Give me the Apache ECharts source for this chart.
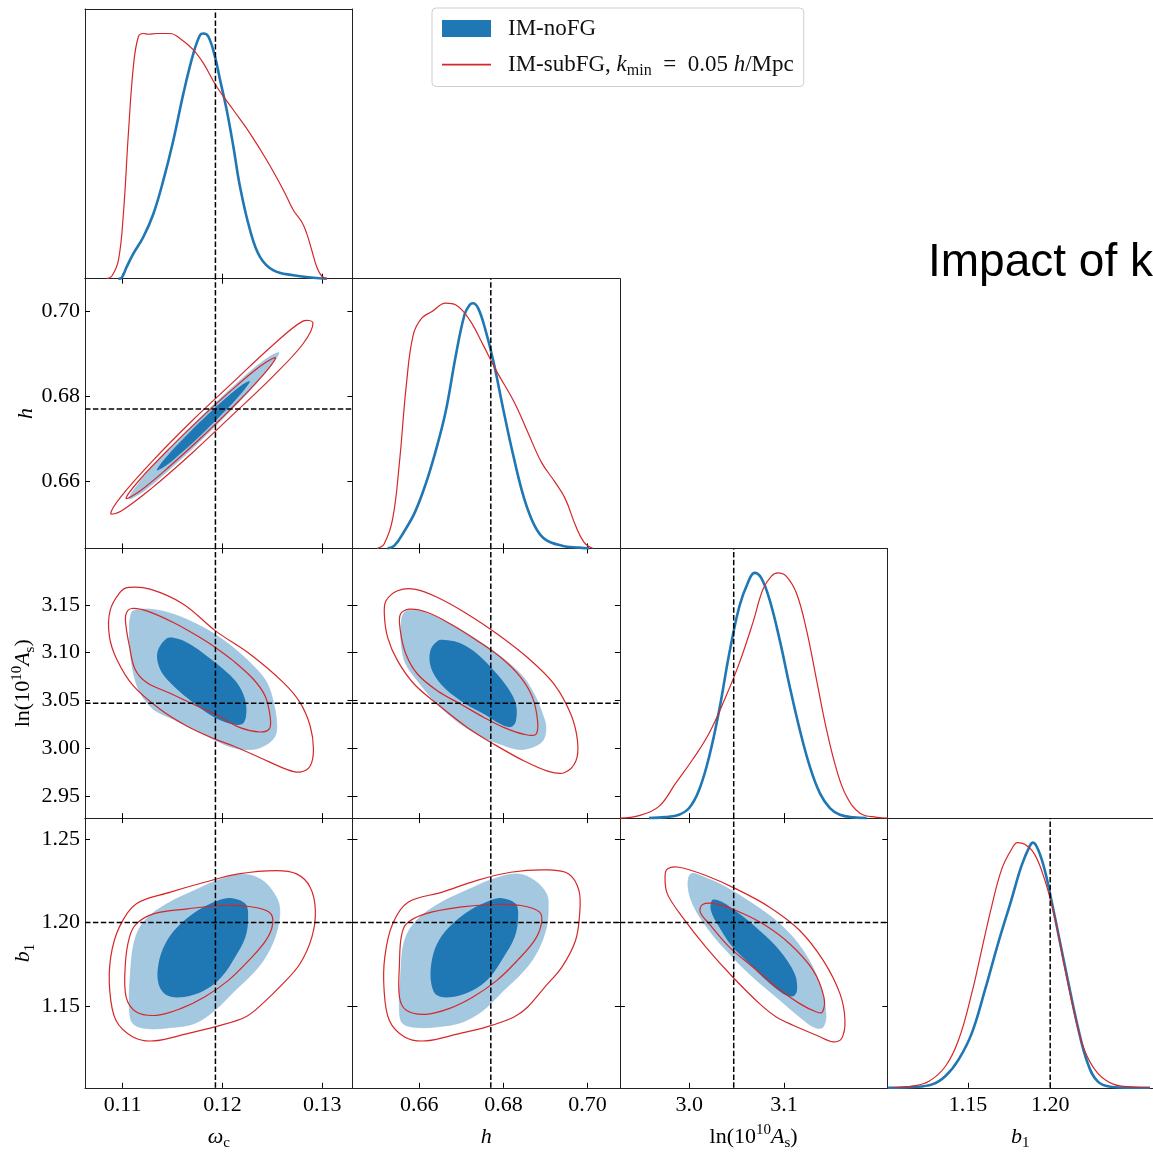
<!DOCTYPE html>
<html><head><meta charset="utf-8">
<script src="https://cdn.jsdelivr.net/npm/echarts@6/dist/echarts.min.js"></script>
<style>html,body{margin:0;padding:0;background:#fff}#c{width:1153px;height:1154px}</style>
</head><body><div id="c"></div>
<script>
// ---------- parameters / axes ----------
const params = ['omega', 'h', 'lnAs', 'b1'];
const axisNames = {
  omega: '{i|ω}{sub|c}',
  h: '{i|h}',
  lnAs: '{r|ln(10}{sup|10}{i|A}{sub|s}{r|)}',
  b1: '{i|b}{sub|1}'
};
const rangeMin = [0.10622, 0.6441, 2.927, 1.101];
const rangeMax = [0.13304, 0.7077, 3.209, 1.2625];
const xTicks = [[0.11, 0.12, 0.13], [0.66, 0.68, 0.70], [3.0, 3.1], [1.15, 1.20]];
const xTickDecimals = [2, 2, 1, 2];
const yTicks = [[], [0.66, 0.68, 0.70], [2.95, 3.00, 3.05, 3.10, 3.15], [1.15, 1.20, 1.25]];
const yTickDecimals = [2, 2, 2, 2];
const fiducial = [0.1193, 0.677, 3.047, 1.20];
const oneDMax = 1.1;

// ---------- 1D marginals [value, normalised density] ----------
const omega1D_noFG = [[0.10957,0],[0.1099,0.004],[0.1104,0.048],[0.11107,0.102],[0.11207,0.170],[0.11308,0.265],[0.11408,0.402],[0.11508,0.565],[0.11609,0.756],[0.11709,0.919],[0.11776,0.994],[0.1181,1.0],[0.1186,0.987],[0.11926,0.905],[0.11977,0.810],[0.12043,0.688],[0.1211,0.538],[0.12177,0.374],[0.12278,0.197],[0.12378,0.088],[0.12512,0.034],[0.12712,0.014],[0.12913,0.004],[0.13047,0]];
const omega1D_subFG = [[0.1084,0],[0.1089,0.01],[0.10957,0.075],[0.11007,0.265],[0.11057,0.592],[0.11107,0.865],[0.11157,0.987],[0.11207,1.0],[0.11258,0.997],[0.11341,1.0],[0.11475,1.0],[0.11575,0.980],[0.11709,0.933],[0.1181,0.878],[0.11943,0.783],[0.1211,0.688],[0.12278,0.592],[0.12445,0.483],[0.12612,0.361],[0.12712,0.279],[0.12796,0.231],[0.12846,0.184],[0.12896,0.116],[0.12946,0.048],[0.12997,0.01],[0.13047,0]];
const h1D_noFG = [[0.65244,0],[0.65407,0.011],[0.6565,0.072],[0.65894,0.147],[0.66138,0.256],[0.66382,0.393],[0.66626,0.557],[0.6687,0.789],[0.67073,0.952],[0.67195,0.993],[0.67276,1.0],[0.67398,0.980],[0.67561,0.898],[0.67764,0.761],[0.68008,0.557],[0.68252,0.366],[0.68496,0.202],[0.6874,0.093],[0.68984,0.038],[0.6939,0.011],[0.69797,0.003],[0.7004,0]];
const h1D_subFG = [[0.65,0],[0.65163,0.018],[0.65366,0.12],[0.65528,0.352],[0.65691,0.666],[0.65854,0.870],[0.66057,0.939],[0.66301,0.966],[0.66626,1.0],[0.6687,0.993],[0.67195,0.932],[0.6752,0.829],[0.67846,0.72],[0.68252,0.598],[0.68577,0.475],[0.68902,0.352],[0.69228,0.27],[0.69472,0.202],[0.69715,0.093],[0.69919,0.025],[0.70122,0]];
const lnAs1D_noFG = [[2.9576,0],[2.97527,0.004],[2.9894,0.014],[3.0,0.041],[3.0106,0.116],[3.0212,0.252],[3.0318,0.442],[3.0424,0.673],[3.053,0.864],[3.06184,0.959],[3.0689,1.0],[3.07597,0.980],[3.08481,0.891],[3.09541,0.728],[3.10601,0.537],[3.11661,0.361],[3.12721,0.211],[3.13781,0.102],[3.14841,0.041],[3.15901,0.014],[3.17314,0.003],[3.18728,0]];
const lnAs1D_subFG = [[2.927,0],[2.947,0.01],[2.9682,0.048],[2.98587,0.143],[3.00353,0.238],[3.0212,0.347],[3.03887,0.497],[3.053,0.633],[3.06714,0.796],[3.07774,0.932],[3.08657,0.986],[3.09364,1.0],[3.10247,0.986],[3.11307,0.918],[3.12367,0.769],[3.13428,0.565],[3.14488,0.361],[3.15548,0.197],[3.16608,0.088],[3.18021,0.02],[3.19788,0.003],[3.20919,0]];
const b11D_noFG = [[1.1012,0],[1.11627,0.003],[1.12831,0.014],[1.13635,0.048],[1.14438,0.116],[1.15241,0.224],[1.16044,0.401],[1.16847,0.592],[1.17651,0.769],[1.18253,0.905],[1.18755,0.986],[1.18956,1.0],[1.19257,0.973],[1.19659,0.891],[1.2006,0.769],[1.20562,0.605],[1.21064,0.442],[1.21667,0.252],[1.22269,0.102],[1.22871,0.027],[1.23675,0.004],[1.2488,0],[1.2606,0]];
const b11D_subFG = [[1.10422,0],[1.11627,0.007],[1.12631,0.027],[1.13635,0.088],[1.14438,0.197],[1.15241,0.388],[1.15843,0.565],[1.16446,0.741],[1.17048,0.891],[1.17651,0.973],[1.18012,1.0],[1.18454,0.993],[1.19056,0.952],[1.19659,0.850],[1.20261,0.701],[1.20863,0.497],[1.21466,0.306],[1.22068,0.156],[1.22871,0.061],[1.23876,0.014],[1.2508,0.003],[1.2606,0]];

// ---------- 2D contours [x, y] (68% and 95%) ----------
const omega_h_noFG68 = [[0.11342,0.66251],[0.11435,0.66560],[0.11622,0.67033],[0.11809,0.67467],[0.11995,0.67873],[0.12182,0.68242],[0.12275,0.68353],[0.12182,0.68044],[0.11995,0.67571],[0.11809,0.67137],[0.11622,0.66731],[0.11435,0.66362]];
const omega_h_noFG95 = [[0.11062,0.65584],[0.11212,0.66093],[0.11513,0.66867],[0.11814,0.67577],[0.12115,0.68241],[0.12416,0.68841],[0.12566,0.69020],[0.12416,0.68511],[0.12115,0.67737],[0.11814,0.67027],[0.11513,0.66363],[0.11212,0.65763]];
const omega_h_subFG68 = [[0.11034,0.65592],[0.11184,0.66064],[0.11483,0.66800],[0.11783,0.67482],[0.12083,0.68124],[0.12382,0.68712],[0.12532,0.68902],[0.12382,0.68430],[0.12083,0.67694],[0.11783,0.67012],[0.11483,0.66370],[0.11184,0.65782]];
const omega_h_subFG95 = [[0.10880,0.65231],[0.10981,0.65626],[0.11286,0.66440],[0.11691,0.67409],[0.12097,0.68307],[0.12502,0.69196],[0.12807,0.69770],[0.12908,0.69725],[0.12807,0.69230],[0.12502,0.68456],[0.12097,0.67547],[0.11691,0.66649],[0.11286,0.65820],[0.10981,0.65286]];

const omega_lnAs_noFG68 = [[0.11441,3.11475],[0.11348,3.10009],[0.11375,3.08264],[0.11475,3.06867],[0.11642,3.05297],[0.11843,3.03726],[0.12043,3.02679],[0.12194,3.02504],[0.12237,3.03377],[0.12227,3.05122],[0.12144,3.06867],[0.12010,3.08264],[0.11843,3.09660],[0.11676,3.10881],[0.11542,3.11475]];
const omega_lnAs_noFG95 = [[0.11107,3.14372],[0.11274,3.14546],[0.11508,3.14023],[0.11776,3.12801],[0.12043,3.11056],[0.12311,3.08613],[0.12445,3.06867],[0.12512,3.04773],[0.12545,3.02504],[0.12528,3.01283],[0.12445,3.00410],[0.12311,2.99887],[0.12110,3.00061],[0.11910,3.00934],[0.11709,3.01981],[0.11508,3.03028],[0.11308,3.04075],[0.11174,3.05820],[0.11107,3.07914],[0.11074,3.10358],[0.11067,3.12801],[0.11084,3.14023]];
const omega_lnAs_subFG68 = [[0.11033,3.14023],[0.1109,3.14616],[0.11241,3.14372],[0.11508,3.13150],[0.11776,3.11579],[0.1193,3.10532],[0.1211,3.09136],[0.12311,3.07216],[0.12428,3.05471],[0.12478,3.03377],[0.12472,3.02051],[0.12378,3.01702],[0.12177,3.02155],[0.1193,3.03551],[0.11709,3.04599],[0.11475,3.05750],[0.11241,3.06867],[0.11124,3.08264],[0.11067,3.10707],[0.11033,3.12801]];
const omega_lnAs_subFG95 = [[0.10873,3.14372],[0.10973,3.16291],[0.11057,3.16815],[0.11274,3.16640],[0.11609,3.1507],[0.1193,3.12277],[0.12278,3.09834],[0.12612,3.06867],[0.12779,3.04773],[0.1288,3.02330],[0.12913,2.99887],[0.1288,2.98141],[0.12779,2.97513],[0.12645,2.97792],[0.12378,2.99014],[0.1211,3.00236],[0.1193,3.00934],[0.11642,3.02330],[0.11375,3.04075],[0.11107,3.06518],[0.1094,3.09311],[0.10866,3.11754]];

const h_lnAs_noFG68 = [[0.66436,3.11230],[0.66261,3.10183],[0.66277,3.08438],[0.66515,3.06693],[0.6699,3.04948],[0.67545,3.03551],[0.67941,3.02504],[0.68178,3.02225],[0.68297,3.02853],[0.68297,3.04599],[0.68099,3.06344],[0.67782,3.08089],[0.67386,3.09834],[0.6699,3.10951],[0.66673,3.11300]];
const h_lnAs_noFG95 = [[0.65644,3.14197],[0.6596,3.14372],[0.66594,3.13325],[0.67228,3.11754],[0.67861,3.09834],[0.68416,3.0774],[0.68733,3.05646],[0.68931,3.03551],[0.6901,3.02155],[0.68931,3.00759],[0.68653,3.00061],[0.68337,2.99887],[0.67941,3.00410],[0.67545,3.01108],[0.6699,3.02504],[0.66436,3.04599],[0.6596,3.07042],[0.65683,3.08787],[0.6558,3.10532],[0.65564,3.12627]];
const h_lnAs_subFG68 = [[0.65549,3.14023],[0.65762,3.14546],[0.66198,3.14197],[0.66752,3.12976],[0.67386,3.1123],[0.67941,3.09485],[0.68416,3.07391],[0.68693,3.05297],[0.68812,3.02853],[0.68772,3.01457],[0.68495,3.01457],[0.6802,3.02155],[0.67545,3.03202],[0.6699,3.04599],[0.66436,3.05995],[0.6596,3.0774],[0.65683,3.09834],[0.65549,3.12277]];
const h_lnAs_subFG95 = [[0.65208,3.15419],[0.65485,3.16466],[0.65881,3.1664],[0.66436,3.15768],[0.6715,3.14023],[0.67861,3.11928],[0.68574,3.09485],[0.69208,3.06693],[0.69604,3.03551],[0.69762,3.00759],[0.69723,2.98665],[0.69446,2.97443],[0.6905,2.97618],[0.68495,2.98665],[0.67782,3.00410],[0.67149,3.02155],[0.66436,3.04599],[0.65881,3.06693],[0.65485,3.09136],[0.65248,3.11579],[0.65168,3.14023]];

const omega_b1_noFG68 = [[0.12094,1.21454],[0.12231,1.21116],[0.12258,1.20319],[0.12231,1.19124],[0.12128,1.17928],[0.11991,1.16733],[0.11821,1.15937],[0.11615,1.15538],[0.11444,1.15638],[0.11359,1.16335],[0.11359,1.17530],[0.11427,1.18725],[0.11547,1.19721],[0.11752,1.20717],[0.11957,1.21315]];
const omega_b1_noFG95 = [[0.12231,1.22869],[0.12402,1.2251],[0.12521,1.21713],[0.12573,1.20916],[0.12556,1.19721],[0.1247,1.18327],[0.12333,1.17132],[0.12128,1.15936],[0.11923,1.14741],[0.11718,1.13944],[0.11479,1.13705],[0.11239,1.13646],[0.11103,1.13944],[0.11068,1.14741],[0.11075,1.16733],[0.1112,1.18924],[0.11222,1.20120],[0.11444,1.21116],[0.11718,1.21912],[0.11991,1.2261]];
const omega_b1_subFG68 = [[0.11137,1.19920],[0.11308,1.20518],[0.1165,1.20817],[0.11991,1.21016],[0.12265,1.20956],[0.1247,1.20618],[0.12504,1.1992],[0.12436,1.18924],[0.12265,1.17729],[0.1206,1.16534],[0.11821,1.15538],[0.11581,1.14841],[0.11342,1.14442],[0.11137,1.14641],[0.11034,1.15538],[0.11027,1.1753],[0.11068,1.19124]];
const omega_b1_subFG95 = [[0.11137,1.21116],[0.11479,1.21813],[0.11821,1.2241],[0.12162,1.22908],[0.12538,1.23108],[0.12744,1.22908],[0.1288,1.22112],[0.12932,1.20717],[0.12897,1.19124],[0.12778,1.1753],[0.12607,1.16335],[0.12402,1.1514],[0.12231,1.14343],[0.11923,1.13745],[0.1165,1.13347],[0.11308,1.12908],[0.11103,1.13147],[0.10932,1.14143],[0.1087,1.15936],[0.1088,1.17928],[0.10966,1.19721]];

const h_b1_noFG68 = [[0.67967,1.21454],[0.68293,1.21116],[0.6835,1.20319],[0.68268,1.19124],[0.68008,1.17928],[0.67683,1.16733],[0.67276,1.15937],[0.66789,1.15538],[0.66423,1.15638],[0.66285,1.16335],[0.66285,1.17530],[0.66423,1.18725],[0.66707,1.19721],[0.67195,1.20717],[0.67683,1.21315]];
const h_b1_noFG95 = [[0.68333,1.22908],[0.6874,1.2251],[0.69024,1.21713],[0.69065,1.20916],[0.69024,1.19721],[0.68821,1.18327],[0.68496,1.17132],[0.68008,1.15936],[0.6752,1.14741],[0.67033,1.14044],[0.66545,1.13785],[0.65976,1.13705],[0.6561,1.13944],[0.65528,1.14741],[0.65553,1.16733],[0.6565,1.18924],[0.65935,1.2012],[0.66463,1.21116],[0.67114,1.21912],[0.67764,1.2261]];
const h_b1_subFG68 = [[0.65691,1.1992],[0.66138,1.20518],[0.66951,1.20916],[0.67764,1.21076],[0.68415,1.21016],[0.68862,1.20618],[0.68902,1.1992],[0.6874,1.18924],[0.68333,1.17729],[0.67846,1.16534],[0.67276,1.15538],[0.66707,1.14841],[0.66138,1.14502],[0.65691,1.14741],[0.65528,1.15538],[0.65528,1.1753],[0.65569,1.19124]];
const h_b1_subFG95 = [[0.65732,1.21215],[0.66545,1.21813],[0.67358,1.2251],[0.68171,1.23008],[0.69065,1.23147],[0.69553,1.22908],[0.69797,1.21912],[0.69813,1.20518],[0.69715,1.18924],[0.6939,1.17331],[0.68984,1.16135],[0.68577,1.1494],[0.68252,1.14343],[0.67602,1.13745],[0.66951,1.13347],[0.66138,1.12908],[0.6565,1.13147],[0.65285,1.14143],[0.65163,1.15936],[0.65179,1.17928],[0.65366,1.1992]];

const lnAs_b1_noFG68 = [[3.02473,1.21355],[3.03534,1.21215],[3.053,1.20518],[3.0742,1.19522],[3.09541,1.18327],[3.11131,1.16932],[3.11378,1.15936],[3.10954,1.15578],[3.09894,1.15737],[3.08127,1.16534],[3.0636,1.1753],[3.04594,1.18526],[3.0318,1.19721],[3.02297,1.20717]];
const lnAs_b1_noFG95 = [[3.00177,1.22908],[3.01413,1.22749],[3.03887,1.22112],[3.06714,1.21116],[3.09541,1.1992],[3.12014,1.18327],[3.13781,1.16335],[3.14417,1.14542],[3.14134,1.13745],[3.13251,1.13705],[3.11661,1.14343],[3.09187,1.15538],[3.06714,1.16733],[3.0424,1.18128],[3.0212,1.19522],[3.0053,1.20916],[2.99894,1.22112]];
const lnAs_b1_subFG68 = [[3.01413,1.21076],[3.02827,1.21116],[3.04947,1.20717],[3.07774,1.1992],[3.10601,1.18725],[3.13074,1.17132],[3.14205,1.15538],[3.14064,1.14641],[3.13428,1.14641],[3.11661,1.15140],[3.09187,1.16135],[3.06714,1.17331],[3.0424,1.18526],[3.0212,1.1992],[3.01166,1.20618]];
const lnAs_b1_subFG95 = [[2.97703,1.23207],[2.9894,1.23307],[3.01767,1.22809],[3.04947,1.22012],[3.08481,1.20916],[3.11661,1.19522],[3.14134,1.17729],[3.15901,1.15737],[3.16431,1.14143],[3.16078,1.13048],[3.15194,1.12849],[3.13428,1.13247],[3.10954,1.13845],[3.09187,1.14343],[3.0742,1.1514],[3.04594,1.16733],[3.01767,1.18526],[2.99293,1.20319],[2.97703,1.21713],[2.97456,1.22709]];

// ---------- lookup tables built from the arrays above ----------
const oneD = {
  omega: [omega1D_noFG, omega1D_subFG], h: [h1D_noFG, h1D_subFG],
  lnAs: [lnAs1D_noFG, lnAs1D_subFG], b1: [b11D_noFG, b11D_subFG]
};
const twoD = {
  omega_h: [omega_h_noFG95, omega_h_noFG68, omega_h_subFG95, omega_h_subFG68],
  omega_lnAs: [omega_lnAs_noFG95, omega_lnAs_noFG68, omega_lnAs_subFG95, omega_lnAs_subFG68],
  h_lnAs: [h_lnAs_noFG95, h_lnAs_noFG68, h_lnAs_subFG95, h_lnAs_subFG68],
  omega_b1: [omega_b1_noFG95, omega_b1_noFG68, omega_b1_subFG95, omega_b1_subFG68],
  h_b1: [h_b1_noFG95, h_b1_noFG68, h_b1_subFG95, h_b1_subFG68],
  lnAs_b1: [lnAs_b1_noFG95, lnAs_b1_noFG68, lnAs_b1_subFG95, lnAs_b1_subFG68]
};

// ---------- styling ----------
const SERIF = '"Liberation Serif", "DejaVu Serif", serif';
const BLUE = '#1f77b4', LIGHTBLUE = '#a4c8e0', RED = '#d62728';
const NAME_NO = 'IM-noFG', NAME_SUB = 'IM-subFG';
const rich = {
  r: {fontFamily: SERIF, fontSize: 22, lineHeight: 28, color: '#000'},
  i: {fontFamily: SERIF, fontSize: 22, lineHeight: 28, fontStyle: 'italic', color: '#000'},
  sub: {fontFamily: SERIF, fontSize: 15, lineHeight: 14, verticalAlign: 'bottom', color: '#000'},
  sup: {fontFamily: SERIF, fontSize: 15, lineHeight: 14, verticalAlign: 'top', color: '#000'}
};
const legendRich = {
  r: {fontFamily: SERIF, fontSize: 23, lineHeight: 28, color: '#111'},
  i: {fontFamily: SERIF, fontSize: 23, lineHeight: 28, fontStyle: 'italic', color: '#111'},
  sub: {fontFamily: SERIF, fontSize: 16, lineHeight: 14, verticalAlign: 'bottom', color: '#111'}
};
const L0 = 85, W = 267.45, T0 = 9, H = 269.7;
const LINE_ICON = 'path://M0,0M0,7.7L49,7.7L49,9.4L0,9.4ZM49,17';

function contourSeries(name, data, xi, yi, style) {
  return {
    type: 'custom', name, xAxisIndex: xi, yAxisIndex: yi, data, silent: true,
    renderItem: function (p, api) {
      if (p.dataIndexInside !== 0) return null;
      const pts = [];
      for (let i = 0; i < p.dataInsideLength; i++) pts.push(api.coord([api.value(0, i), api.value(1, i)]));
      return {type: 'polygon', shape: {points: pts, smooth: 0.35}, style: style};
    }
  };
}
function dashSeries(data, xi, yi) {
  return {type: 'line', data, xAxisIndex: xi, yAxisIndex: yi, symbol: 'none', silent: true,
    lineStyle: {color: '#000', width: 1.5, type: [5.5, 2.4]}, z: 10};
}

const grids = [], xAxes = [], yAxes = [], series = [];
let g = 0;
for (let r = 0; r < 4; r++) {
  for (let c = 0; c <= r; c++) {
    const is1D = r === c;
    grids.push({left: L0 + c * W, top: T0 + r * H, width: W, height: H});
    const xmin = rangeMin[c], xmax = rangeMax[c];
    const ymin = is1D ? 0 : rangeMin[r], ymax = is1D ? oneDMax : rangeMax[r];
    const xd = xTickDecimals[c], yd = yTickDecimals[r];
    const frame = {show: true, onZero: false, lineStyle: {color: '#222', width: 1}};
    const tickStyle = {color: '#000', width: 1};
    xAxes.push({
      gridIndex: g, type: 'value', min: xmin, max: xmax, position: 'bottom',
      axisLine: frame,
      axisTick: {show: true, inside: true, length: 5, customValues: xTicks[c], lineStyle: tickStyle},
      axisLabel: {show: r === 3, customValues: xTicks[c], formatter: v => v.toFixed(xd), margin: 6,
        color: '#000', fontFamily: SERIF, fontSize: 22},
      splitLine: {show: false},
      name: r === 3 ? axisNames[params[c]] : '', nameLocation: 'middle', nameGap: 35,
      nameTextStyle: {rich}
    });
    xAxes.push({
      gridIndex: g, type: 'value', min: xmin, max: xmax, position: 'top',
      axisLine: frame,
      axisTick: {show: !is1D, inside: true, length: 5, customValues: xTicks[c], lineStyle: tickStyle},
      axisLabel: {show: false, customValues: xTicks[c]}, splitLine: {show: false}
    });
    yAxes.push({
      gridIndex: g, type: 'value', min: ymin, max: ymax, position: 'left',
      axisLine: frame,
      axisTick: {show: !is1D, inside: true, length: 5, customValues: is1D ? [] : yTicks[r], lineStyle: tickStyle},
      axisLabel: {show: c === 0 && !is1D, customValues: is1D ? [] : yTicks[r], formatter: v => v.toFixed(yd),
        margin: 5, color: '#000', fontFamily: SERIF, fontSize: 22},
      splitLine: {show: false},
      name: (c === 0 && !is1D) ? axisNames[params[r]] : '', nameLocation: 'middle', nameGap: 41, nameRotate: 90,
      nameTextStyle: {rich}
    });
    yAxes.push({
      gridIndex: g, type: 'value', min: ymin, max: ymax, position: 'right',
      axisLine: frame,
      axisTick: {show: !is1D, inside: true, length: 5, customValues: is1D ? [] : yTicks[r], lineStyle: tickStyle},
      axisLabel: {show: false, customValues: is1D ? [] : yTicks[r]}, splitLine: {show: false}
    });
    const xi = 2 * g, yi = 2 * g;
    if (is1D) {
      const d = oneD[params[c]];
      series.push({type: 'line', name: NAME_NO, data: d[0], xAxisIndex: xi, yAxisIndex: yi, symbol: 'none',
        smooth: 0.4, silent: true, lineStyle: {color: BLUE, width: 2.6}, itemStyle: {color: BLUE}});
      series.push({type: 'line', name: NAME_SUB, data: d[1], xAxisIndex: xi, yAxisIndex: yi, symbol: 'none',
        smooth: 0.4, silent: true, lineStyle: {color: RED, width: 1.2}, itemStyle: {color: RED}});
      series.push(dashSeries([[fiducial[c], 0], [fiducial[c], oneDMax]], xi, yi));
    } else {
      const cs = twoD[params[c] + '_' + params[r]];
      series.push(contourSeries(NAME_NO, cs[0], xi, yi, {fill: LIGHTBLUE, stroke: '#93bcdb', lineWidth: 0.6}));
      series.push(contourSeries(NAME_NO, cs[1], xi, yi, {fill: BLUE, stroke: 'none'}));
      series.push(contourSeries(NAME_SUB, cs[2], xi, yi, {fill: 'none', stroke: RED, lineWidth: 1.2}));
      series.push(contourSeries(NAME_SUB, cs[3], xi, yi, {fill: 'none', stroke: RED, lineWidth: 1.2}));
      series.push(dashSeries([[fiducial[c], ymin], [fiducial[c], ymax]], xi, yi));
      series.push(dashSeries([[xmin, fiducial[r]], [xmax, fiducial[r]]], xi, yi));
    }
    g++;
  }
}

const chart = echarts.init(document.getElementById('c'), null, {renderer: 'canvas'});
chart.setOption({
  animation: false,
  backgroundColor: '#fff',
  grid: grids, xAxis: xAxes, yAxis: yAxes, series,
  legend: {
    left: 432, top: 8, orient: 'vertical', selectedMode: false,
    padding: [9, 10, 8, 10], itemGap: 13, itemWidth: 49, itemHeight: 17,
    backgroundColor: '#fff', borderColor: '#cfcfcf', borderWidth: 1, borderRadius: 4,
    data: [
      {name: NAME_NO, icon: 'rect', itemStyle: {color: BLUE, borderWidth: 0}},
      {name: NAME_SUB, icon: LINE_ICON, itemStyle: {color: RED, borderWidth: 0}}
    ],
    formatter: n => n === NAME_NO ? '{r|IM-noFG}' : '{r|IM-subFG, }{i|k}{sub|min}{r|  =  0.05 }{i|h}{r|/Mpc}',
    textStyle: {padding: [0, 0, 0, 12], rich: legendRich}
  },
  graphic: [{
    type: 'text', x: 928, y: 263, silent: true,
    style: {text: 'Impact of kmin', fontFamily: '"Liberation Sans", Arial, sans-serif', fontSize: 46,
      fill: '#000', verticalAlign: 'middle', align: 'left'}
  }]
});
</script></body></html>
